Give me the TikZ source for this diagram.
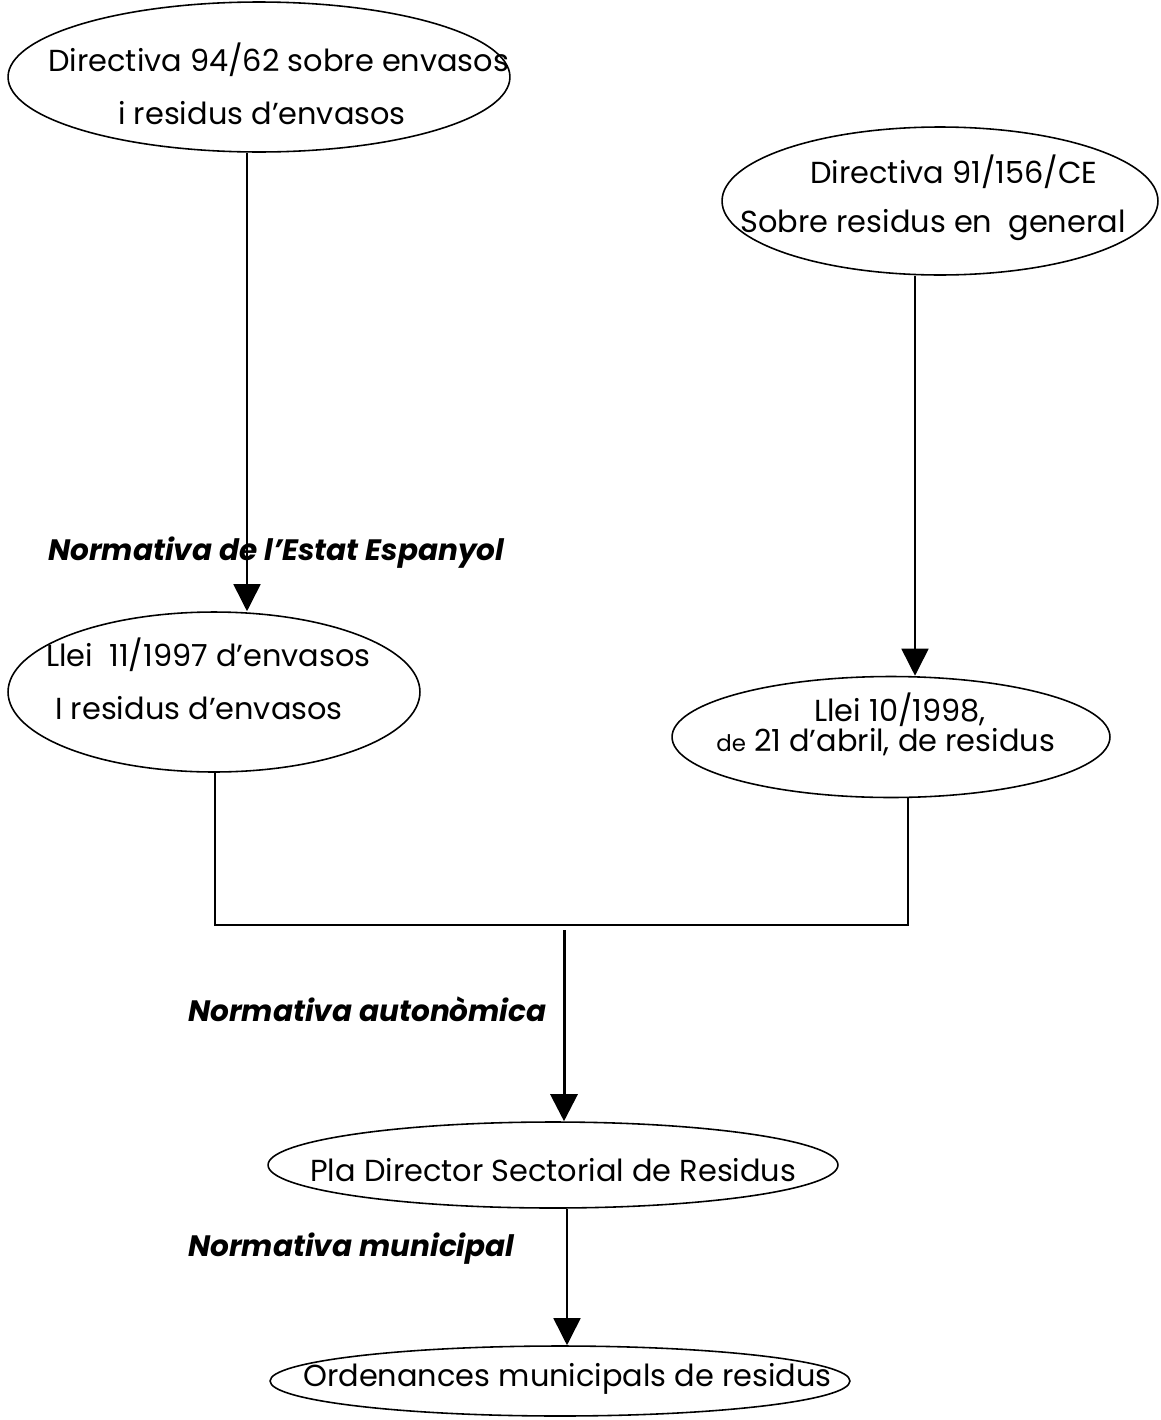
\documentclass[tikz,border=0pt]{standalone}
\usepackage{fontspec}
\setmainfont{Poppins}
\usetikzlibrary{arrows.meta, shapes.geometric}

\begin{document}
\begin{tikzpicture}[x=0.02cm, y=-0.02cm,
    doc/.style={draw, ellipse, line width=0.9pt, inner sep=0pt},
    txt/.style={inner sep=0pt, anchor=west, font=\fontsize{17.3}{19}\selectfont},
    lvl/.style={inner sep=0pt, anchor=west, font=\fontsize{16.8}{19}\selectfont\bfseries\itshape},
    arr/.style={line width=0.9pt, -{Triangle[length=5.4mm, width=5.4mm]}},
    joint/.style={line width=0.9pt}]
    \useasboundingbox (0,0) rectangle (1160,1420);

    % European directives
    \node[doc, minimum width=10.04cm, minimum height=3.0cm] (dir94) at (259,77) {};
    \node[txt] (dir94a) at (48,60) {Directiva 94/62 sobre envasos};
    \node[txt] (dir94b) at (118,113) {i residus d’envasos};

    \node[doc, minimum width=8.72cm, minimum height=2.96cm] (dir91) at (940,201) {};
    \node[txt] (dir91a) at (810,172) {Directiva 91/156/CE};
    \node[txt] (dir91b) at (740,225) {Sobre residus en~ general};

    % State laws
    \node[lvl] (estat) at (48,553) {Normativa de l’Estat Espanyol};

    \node[doc, minimum width=8.24cm, minimum height=3.2cm] (llei11) at (214,692) {};
    \node[txt] (llei11a) at (46,655) {Llei~ 11/1997 d’envasos};
    \node[txt] (llei11b) at (55,708) {I residus d’envasos};

    \node[doc, minimum width=8.76cm, minimum height=2.42cm] (llei10) at (891,737) {};
    \node[txt] (llei10a) at (814,710) {Llei 10/1998,};
    \node[txt] (llei10b) at (716,742) {{\fontsize{13}{15}\selectfont de} 21 d’abril, de residus};

    % Regional and municipal level
    \node[lvl] (auton) at (188,1009) {Normativa autonòmica};
    \node[doc, minimum width=11.4cm, minimum height=1.72cm] (pla) at (553,1165) {};
    \node[txt] (plaa) at (310,1170) {Pla Director Sectorial de Residus};

    \node[lvl] (munic) at (188,1249) {Normativa municipal};
    \node[doc, minimum width=11.6cm, minimum height=1.4cm] (ord) at (560,1381) {};
    \node[txt] (orda) at (303,1379) {Ordenances municipals de residus};

    % Connectors
    \coordinate (a1) at (247,0);
    \coordinate (a2) at (915,0);
    \coordinate (jl) at (215,925);
    \coordinate (jr) at (908,925);
    \coordinate (ja) at (564,930);
    \coordinate (b1) at (567,0);

    \draw[arr] (dir94.south -| a1) -- (llei11.north -| a1);
    \draw[arr] (dir91.south -| a2) -- (llei10.north -| a2);
    \draw[joint] (llei11.south -| jl) -- (jl) -- (jr) -- (llei10.south -| jr);
    \draw[arr, line width=1.7pt] (ja) -- (pla.north -| ja);
    \draw[arr] (pla.south -| b1) -- (ord.north -| b1);
\end{tikzpicture}
\end{document}
